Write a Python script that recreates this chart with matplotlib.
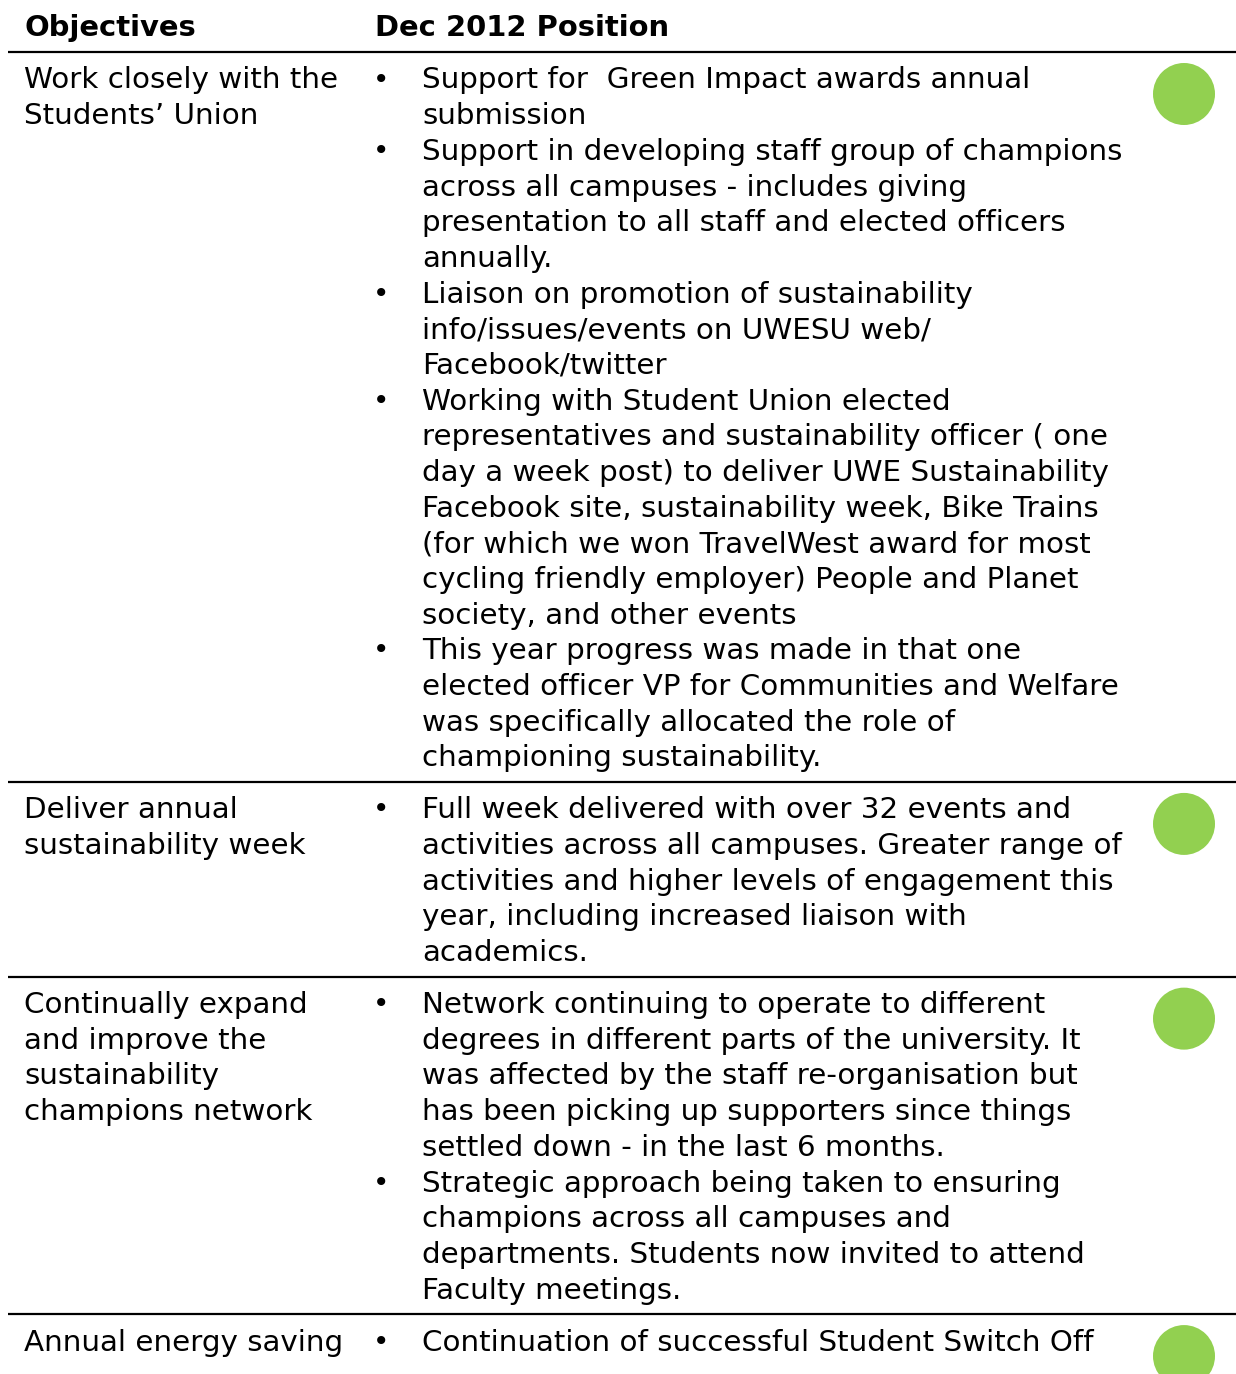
import matplotlib
matplotlib.use("Agg")
import matplotlib.pyplot as plt
from matplotlib.patches import Circle

W, H = 1236, 1374
DPI = 100

headers = ["Objectives", "Dec 2012 Position"]

objectives = [
    ["Work closely with the", "Students\u2019 Union"],
    ["Deliver annual", "sustainability week"],
    ["Continually expand", "and improve the", "sustainability", "champions network"],
    ["Annual energy saving"],
]

positions = [
    [
        ["Support for  Green Impact awards annual", "submission"],
        ["Support in developing staff group of champions",
         "across all campuses - includes giving",
         "presentation to all staff and elected officers",
         "annually."],
        ["Liaison on promotion of sustainability",
         "info/issues/events on UWESU web/",
         "Facebook/twitter"],
        ["Working with Student Union elected",
         "representatives and sustainability officer ( one",
         "day a week post) to deliver UWE Sustainability",
         "Facebook site, sustainability week, Bike Trains",
         "(for which we won TravelWest award for most",
         "cycling friendly employer) People and Planet",
         "society, and other events"],
        ["This year progress was made in that one",
         "elected officer VP for Communities and Welfare",
         "was specifically allocated the role of",
         "championing sustainability."],
    ],
    [
        ["Full week delivered with over 32 events and",
         "activities across all campuses. Greater range of",
         "activities and higher levels of engagement this",
         "year, including increased liaison with",
         "academics."],
    ],
    [
        ["Network continuing to operate to different",
         "degrees in different parts of the university. It",
         "was affected by the staff re-organisation but",
         "has been picking up supporters since things",
         "settled down - in the last 6 months."],
        ["Strategic approach being taken to ensuring",
         "champions across all campuses and",
         "departments. Students now invited to attend",
         "Faculty meetings."],
    ],
    [
        ["Continuation of successful Student Switch Off"],
    ],
]

status = ["green", "green", "green", "green"]
status_colors = {"green": "#92D050"}

# layout (pixels)
LINE_H = 35.68
X_OBJ, X_BUL, X_TXT, X_HDR2 = 24, 381, 422, 375
X_CIRC, R_CIRC = 1184, 31
HEADER_LINE = 52
FONT = "DejaVu Sans"

fig = plt.figure(figsize=(W / DPI, H / DPI), dpi=DPI)
ax = fig.add_axes([0, 0, 1, 1])
ax.set_xlim(0, W)
ax.set_ylim(H, 0)
ax.axis("off")

# calibrate font size so a reference line matches the picture width
renderer = fig.canvas.get_renderer()
def width_px(s, size, weight="normal"):
    t = fig.text(0, 0, s, fontsize=size, family=FONT, fontweight=weight)
    w = t.get_window_extent(renderer).width
    t.remove()
    return w

fs = 20 * 701 / width_px("Support in developing staff group of champions", 20)
fsb = 20 * 295 / width_px("Dec 2012 Position", 20, "bold")

BASE_OFF = 9.5  # baseline offset from line centre

ax.text(X_OBJ, 27 + BASE_OFF, headers[0], fontsize=fsb, fontweight="heavy",
        family=FONT, va="baseline", ha="left", color="black")
ax.text(X_HDR2, 27 + BASE_OFF, headers[1], fontsize=fsb, fontweight="heavy",
        family=FONT, va="baseline", ha="left", color="black")
ax.plot([8, W], [HEADER_LINE, HEADER_LINE], color="black", lw=1.6,
        solid_capstyle="butt")

top = HEADER_LINE
for i, (obj, bullets) in enumerate(zip(objectives, positions)):
    first = top + 27
    for k, line in enumerate(obj):
        ax.text(X_OBJ, first + k * LINE_H + BASE_OFF, line, fontsize=fs,
                family=FONT, va="baseline", ha="left", color="black")
    n = 0
    for b in bullets:
        ax.text(X_BUL, first + n * LINE_H + BASE_OFF - 1, "\u2022",
                fontsize=fs * 0.95, family=FONT, va="baseline", ha="center",
                color="black")
        for line in b:
            ax.text(X_TXT, first + n * LINE_H + BASE_OFF, line, fontsize=fs,
                    family=FONT, va="baseline", ha="left", color="black")
            n += 1
    ax.add_patch(Circle((X_CIRC, top + 42), R_CIRC,
                        color=status_colors[status[i]], lw=0))
    bottom = first + (n - 1) * LINE_H + 25
    if i < len(objectives) - 1:
        ax.plot([8, W], [bottom, bottom], color="black", lw=1.6,
                solid_capstyle="butt")
    top = bottom

fig.savefig("out.png", dpi=DPI)
